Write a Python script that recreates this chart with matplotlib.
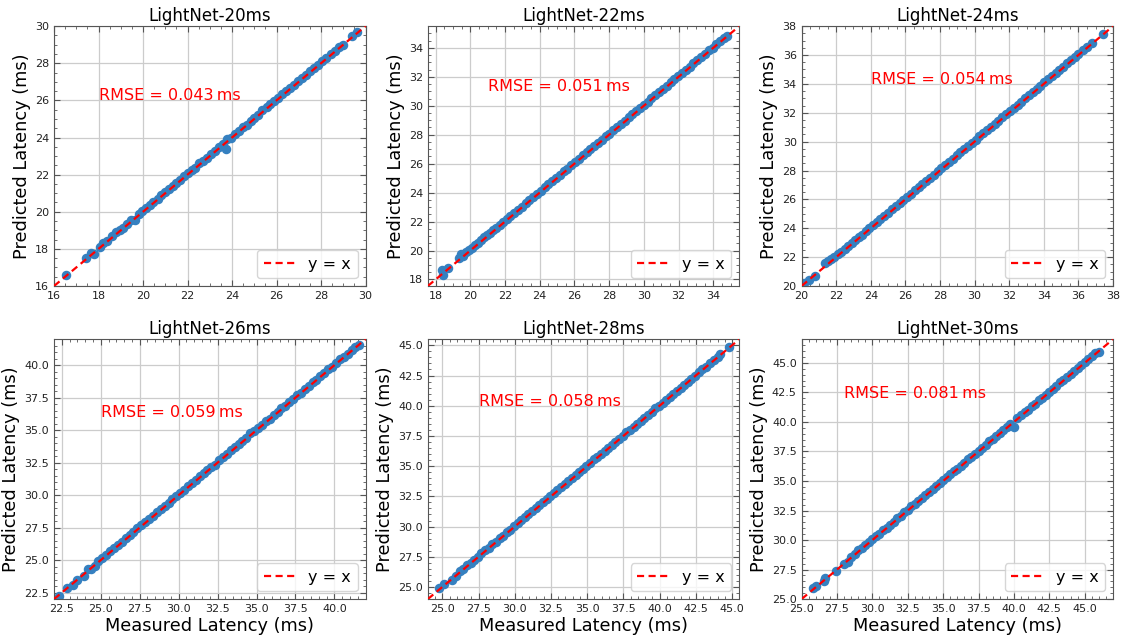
import numpy as np
import matplotlib
matplotlib.use('Agg')
import matplotlib.pyplot as plt
from matplotlib.ticker import AutoMinorLocator

titles = ["LightNet-20ms", "LightNet-22ms", "LightNet-24ms",
          "LightNet-26ms", "LightNet-28ms", "LightNet-30ms"]
rmse_values = [0.043, 0.051, 0.054, 0.059, 0.058, 0.081]

# measured / predicted latency (ms) per model
measured_20 = [16.55, 17.42, 17.65, 17.78, 18.05, 18.22, 18.38, 18.61, 18.80, 18.95,
               19.12, 19.30, 19.48, 19.62, 19.80, 19.95, 20.12, 20.30, 20.46, 20.65,
               20.82, 20.98, 21.15, 21.33, 21.50, 21.66, 21.84, 22.02, 22.18, 22.35,
               22.52, 22.70, 22.88, 23.04, 23.22, 23.40, 23.58, 23.75, 23.78, 23.95,
               24.12, 24.30, 24.48, 24.66, 24.84, 25.00, 25.18, 25.36, 25.55, 25.72,
               25.90, 26.08, 26.26, 26.44, 26.62, 26.80, 26.98, 27.16, 27.34, 27.52,
               27.70, 27.88, 28.06, 28.24, 28.45, 28.62, 28.80, 28.97, 29.40, 29.62]
predicted_20 = [16.60, 17.50, 17.78, 17.74, 18.08, 18.30, 18.42, 18.68, 18.90, 19.00,
                19.15, 19.36, 19.55, 19.58, 19.90, 20.02, 20.18, 20.34, 20.55, 20.70,
                20.90, 21.05, 21.20, 21.40, 21.55, 21.70, 21.90, 22.08, 22.24, 22.38,
                22.60, 22.76, 22.92, 23.10, 23.28, 23.48, 23.66, 23.40, 23.90, 24.00,
                24.18, 24.34, 24.55, 24.70, 24.90, 25.06, 25.22, 25.48, 25.62, 25.78,
                25.95, 26.12, 26.32, 26.48, 26.66, 26.84, 27.02, 27.20, 27.38, 27.56,
                27.74, 27.92, 28.10, 28.30, 28.50, 28.66, 28.86, 29.00, 29.45, 29.66]

measured_22 = [18.35, 18.42, 18.70, 19.35, 19.48, 19.60, 19.75, 19.92, 20.10, 20.28,
               20.45, 20.62, 20.80, 20.98, 21.15, 21.32, 21.50, 21.70, 21.90, 22.10,
               22.30, 22.52, 22.74, 22.96, 23.18, 23.40, 23.62, 23.84, 24.06, 24.28,
               24.50, 24.72, 24.94, 25.16, 25.38, 25.60, 25.82, 26.04, 26.26, 26.48,
               26.70, 26.92, 27.14, 27.36, 27.58, 27.80, 28.02, 28.24, 28.46, 28.68,
               28.90, 29.12, 29.34, 29.56, 29.78, 30.00, 30.22, 30.44, 30.66, 30.88,
               31.10, 31.32, 31.54, 31.76, 31.98, 32.20, 32.42, 32.64, 32.86, 33.08,
               33.30, 33.52, 33.74, 33.96, 34.18, 34.40, 34.60, 34.78]
predicted_22 = [18.68, 18.30, 18.82, 19.50, 19.78, 19.65, 19.88, 20.02, 20.15, 20.38,
                20.55, 20.70, 20.90, 21.05, 21.22, 21.45, 21.58, 21.78, 21.98, 22.16,
                22.38, 22.60, 22.82, 23.04, 23.25, 23.48, 23.70, 23.92, 24.12, 24.36,
                24.58, 24.78, 25.02, 25.24, 25.46, 25.66, 25.90, 26.10, 26.34, 26.58,
                26.78, 26.98, 27.22, 27.44, 27.64, 27.88, 28.08, 28.30, 28.54, 28.76,
                28.96, 29.20, 29.40, 29.64, 29.84, 30.08, 30.28, 30.52, 30.72, 30.94,
                31.18, 31.38, 31.62, 31.82, 32.06, 32.26, 32.50, 32.70, 32.94, 33.14,
                33.38, 33.58, 33.82, 34.02, 34.26, 34.46, 34.66, 34.82]

measured_24 = [20.15, 20.45, 20.78, 21.35, 21.52, 21.70, 21.90, 22.10, 22.30, 22.50,
               22.70, 22.90, 23.10, 23.30, 23.50, 23.70, 23.90, 24.12, 24.34, 24.56,
               24.78, 25.00, 25.22, 25.44, 25.66, 25.88, 26.10, 26.32, 26.54, 26.76,
               26.98, 27.20, 27.42, 27.64, 27.86, 28.08, 28.30, 28.52, 28.74, 28.96,
               29.18, 29.40, 29.62, 29.84, 30.06, 30.28, 30.50, 30.72, 30.94, 31.16,
               31.38, 31.60, 31.82, 32.04, 32.26, 32.48, 32.70, 32.92, 33.14, 33.36,
               33.58, 33.80, 34.02, 34.24, 34.46, 34.68, 34.90, 35.12, 35.34, 35.56,
               35.78, 36.00, 36.25, 36.50, 36.80, 37.40]
predicted_24 = [20.22, 20.40, 20.70, 21.62, 21.72, 21.85, 21.98, 22.20, 22.38, 22.58,
                22.80, 22.98, 23.22, 23.40, 23.56, 23.78, 24.00, 24.22, 24.44, 24.62,
                24.86, 25.08, 25.30, 25.52, 25.74, 25.96, 26.18, 26.40, 26.62, 26.84,
                27.06, 27.28, 27.50, 27.72, 27.94, 28.16, 28.38, 28.60, 28.82, 29.04,
                29.26, 29.50, 29.70, 29.92, 30.14, 30.36, 30.58, 30.80, 31.02, 31.24,
                31.46, 31.68, 31.90, 32.12, 32.34, 32.56, 32.78, 33.00, 33.22, 33.44,
                33.66, 33.88, 34.10, 34.32, 34.54, 34.76, 34.98, 35.20, 35.42, 35.64,
                35.86, 36.08, 36.32, 36.58, 36.86, 37.45]

measured_26 = [22.30, 22.80, 23.20, 23.45, 23.95, 24.15, 24.35, 24.60, 24.85, 25.10,
               25.35, 25.60, 25.85, 26.10, 26.35, 26.60, 26.85, 27.10, 27.35, 27.60,
               27.85, 28.10, 28.35, 28.60, 28.85, 29.10, 29.35, 29.60, 29.85, 30.10,
               30.35, 30.60, 30.85, 31.10, 31.35, 31.60, 31.85, 32.10, 32.35, 32.60,
               32.85, 33.10, 33.35, 33.60, 33.85, 34.10, 34.35, 34.60, 34.85, 35.10,
               35.35, 35.60, 35.85, 36.10, 36.35, 36.60, 36.85, 37.10, 37.35, 37.60,
               37.85, 38.10, 38.35, 38.60, 38.85, 39.10, 39.35, 39.60, 39.85, 40.10,
               40.35, 40.60, 40.85, 41.10, 41.35, 41.55]
predicted_26 = [22.25, 22.82, 23.10, 23.50, 23.80, 24.30, 24.30, 24.55, 24.95, 25.15,
                25.40, 25.70, 25.90, 26.20, 26.40, 26.70, 26.90, 27.20, 27.45, 27.70,
                27.95, 28.20, 28.40, 28.70, 28.90, 29.20, 29.40, 29.70, 29.90, 30.20,
                30.40, 30.70, 30.90, 31.20, 31.45, 31.70, 31.90, 32.20, 32.35, 32.70,
                32.95, 33.20, 33.45, 33.70, 33.90, 34.20, 34.40, 34.75, 34.95, 35.15,
                35.40, 35.70, 35.90, 36.15, 36.40, 36.70, 36.90, 37.20, 37.40, 37.70,
                37.90, 38.20, 38.40, 38.70, 38.90, 39.20, 39.40, 39.70, 39.90, 40.20,
                40.45, 40.65, 40.90, 41.15, 41.40, 41.58]

measured_28 = [24.80, 25.10, 25.65, 25.95, 26.20, 26.45, 26.70, 26.95, 27.20, 27.45,
               27.70, 27.95, 28.20, 28.45, 28.70, 28.95, 29.20, 29.45, 29.70, 29.95,
               30.20, 30.45, 30.70, 30.95, 31.20, 31.45, 31.70, 31.95, 32.20, 32.45,
               32.70, 32.95, 33.20, 33.45, 33.70, 33.95, 34.20, 34.45, 34.70, 34.95,
               35.20, 35.45, 35.70, 35.95, 36.20, 36.45, 36.70, 36.95, 37.20, 37.45,
               37.70, 37.95, 38.20, 38.45, 38.70, 38.95, 39.20, 39.45, 39.70, 39.95,
               40.20, 40.45, 40.70, 40.95, 41.20, 41.45, 41.70, 41.95, 42.20, 42.45,
               42.70, 42.95, 43.20, 43.50, 43.75, 44.00, 44.20, 44.80]
predicted_28 = [24.95, 25.25, 25.60, 25.95, 26.30, 26.50, 26.85, 27.00, 27.25, 27.50,
                27.85, 28.05, 28.25, 28.55, 28.75, 29.05, 29.25, 29.55, 29.75, 30.05,
                30.30, 30.55, 30.80, 31.00, 31.25, 31.50, 31.75, 32.00, 32.25, 32.50,
                32.80, 33.05, 33.25, 33.50, 33.75, 34.00, 34.30, 34.50, 34.75, 35.00,
                35.25, 35.55, 35.75, 36.00, 36.25, 36.50, 36.75, 37.00, 37.25, 37.50,
                37.80, 38.00, 38.25, 38.50, 38.75, 39.00, 39.25, 39.50, 39.80, 40.00,
                40.25, 40.50, 40.75, 41.00, 41.25, 41.50, 41.75, 42.00, 42.25, 42.50,
                42.75, 43.00, 43.20, 43.55, 43.80, 44.05, 44.25, 44.85]

measured_30 = [25.80, 26.00, 26.60, 26.65, 27.40, 28.00, 28.25, 28.50, 28.75, 29.00,
               29.25, 29.50, 29.75, 30.00, 30.25, 30.50, 30.75, 31.00, 31.25, 31.50,
               31.75, 32.00, 32.25, 32.50, 32.75, 33.00, 33.25, 33.50, 33.75, 34.00,
               34.25, 34.50, 34.75, 35.00, 35.25, 35.50, 35.75, 36.00, 36.25, 36.50,
               36.75, 37.00, 37.25, 37.50, 37.75, 38.00, 38.25, 38.50, 38.75, 39.00,
               39.25, 39.50, 39.75, 40.00, 40.25, 40.50, 40.75, 41.00, 41.25, 41.50,
               41.75, 42.00, 42.25, 42.50, 42.75, 43.00, 43.25, 43.50, 43.75, 44.00,
               44.25, 44.50, 44.75, 45.00, 45.25, 45.50, 45.75, 46.00]
predicted_30 = [25.95, 26.15, 26.55, 26.80, 27.35, 28.00, 28.15, 28.60, 28.85, 29.15,
                29.30, 29.55, 29.85, 30.10, 30.30, 30.55, 30.85, 31.05, 31.30, 31.55,
                31.85, 32.05, 32.40, 32.55, 32.85, 33.05, 33.30, 33.55, 33.85, 34.05,
                34.35, 34.55, 34.80, 35.05, 35.30, 35.55, 35.85, 36.05, 36.30, 36.55,
                36.85, 37.05, 37.30, 37.55, 37.80, 38.05, 38.35, 38.55, 38.85, 39.05,
                39.30, 39.55, 39.80, 39.60, 40.35, 40.55, 40.80, 41.05, 41.35, 41.55,
                41.85, 42.05, 42.30, 42.55, 42.80, 43.05, 43.35, 43.55, 43.80, 44.05,
                44.30, 44.55, 44.80, 45.05, 45.30, 45.55, 45.80, 45.95]

measured = [measured_20, measured_22, measured_24, measured_26, measured_28, measured_30]
predicted = [predicted_20, predicted_22, predicted_24, predicted_26, predicted_28, predicted_30]

# axis range (same for x and y) and where the RMSE note sits
limits = [(16, 30), (17.55, 35.5), (20, 38), (22, 42), (24, 45.5), (25, 47)]
text_pos = [(18, 26), (21, 31), (24, 34), (25, 36), (27.5, 40), (28, 42)]

fig, axes = plt.subplots(2, 3, figsize=(11.26, 6.38), dpi=100)
plt.subplots_adjust(left=0.048, right=0.9885, top=0.959, bottom=0.061,
                    wspace=0.2, hspace=0.205)

for i, ax in enumerate(axes.flat):
    lo, hi = limits[i]
    ax.scatter(measured[i], predicted[i], s=34, color='#3580c0', zorder=2)
    ax.plot([lo, hi], [lo, hi], color='red', linestyle='--', dashes=(3.2, 2.0),
            linewidth=1.6, label='y = x', zorder=3)
    ax.set_xlim(lo, hi)
    ax.set_ylim(lo, hi)
    ax.set_title(titles[i], fontsize=12, pad=4)
    ax.set_ylabel('Predicted Latency (ms)', fontsize=12.8, labelpad=3)
    if i >= 3:
        ax.set_xlabel('Measured Latency (ms)', fontsize=12.8, labelpad=2)
    tx, ty = text_pos[i]
    ax.text(tx, ty, 'RMSE = %.3f\u2009ms' % rmse_values[i], color='red', fontsize=11.5)

    ax.grid(True, color='#cccccc', linewidth=0.9, zorder=0)
    ax.set_axisbelow(True)
    ax.xaxis.set_minor_locator(AutoMinorLocator())
    ax.yaxis.set_minor_locator(AutoMinorLocator())
    ax.tick_params(which='both', direction='in', top=True, right=True,
                   colors='#555555', labelcolor='#222222', labelsize=8)
    ax.tick_params(which='major', length=4)
    ax.tick_params(which='minor', length=2)
    for sp in ax.spines.values():
        sp.set_color('#555555')
    ax.legend(loc='lower right', fontsize=11.5, handlelength=2.0)

plt.savefig('out.png', dpi=100)
